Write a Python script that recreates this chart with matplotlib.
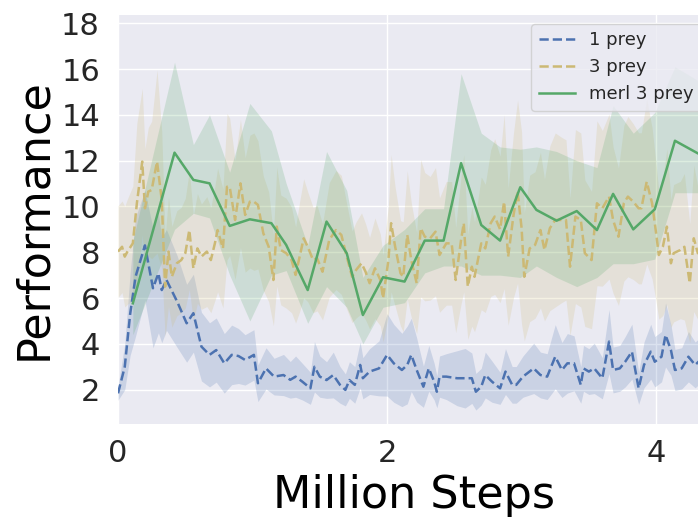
import numpy as np
import matplotlib
matplotlib.use('Agg')
import matplotlib.pyplot as plt

# ── data: 1 prey (mean and spread over runs) ──
blue_x = [0.00, 0.05, 0.09, 0.13, 0.20, 0.26, 0.30, 0.325, 0.36, 0.44,
          0.51, 0.56, 0.62, 0.68, 0.73, 0.79, 0.845, 0.895, 0.944, 1.01,
          1.04, 1.10, 1.16, 1.23, 1.28, 1.32, 1.37, 1.43, 1.46, 1.50,
          1.55, 1.60, 1.65, 1.69, 1.72, 1.76, 1.80, 1.82, 1.87, 1.94,
          2.00, 2.05, 2.11, 2.15, 2.18, 2.22, 2.27, 2.31, 2.35, 2.37,
          2.39, 2.44, 2.52, 2.58, 2.63, 2.66, 2.70, 2.73, 2.78, 2.84,
          2.88, 2.93, 2.96, 3.01, 3.09, 3.14, 3.19, 3.25, 3.30, 3.34,
          3.39, 3.44, 3.46, 3.50, 3.54, 3.60, 3.65, 3.68, 3.73, 3.77,
          3.82, 3.87, 3.91, 3.96, 3.99, 4.04, 4.07, 4.11, 4.14, 4.19,
          4.24, 4.29, 4.33, 4.38]
blue_y = [1.84, 3.00, 5.30, 6.93, 8.30, 6.43, 7.08, 6.35, 6.79, 5.84,
          4.90, 5.34, 3.88, 3.52, 3.73, 3.15, 3.52, 3.47, 3.30, 3.52,
          2.28, 2.93, 2.57, 2.64, 2.43, 2.57, 2.35, 2.06, 3.00, 2.57,
          2.42, 2.64, 2.21, 1.99, 2.42, 2.21, 3.08, 2.50, 2.79, 2.93,
          3.52, 3.15, 2.86, 3.08, 3.52, 2.86, 2.13, 2.93, 2.35, 1.91,
          2.57, 2.57, 2.50, 2.50, 2.50, 1.91, 2.13, 2.64, 2.35, 2.06,
          2.79, 2.21, 2.21, 2.57, 2.93, 2.64, 2.57, 3.44, 2.86, 3.15,
          3.15, 2.21, 2.93, 2.79, 2.93, 2.50, 4.10, 2.86, 2.93, 3.22,
          3.66, 2.06, 3.08, 3.66, 3.22, 3.44, 4.39, 3.73, 2.86, 2.93,
          3.44, 3.08, 3.30, 3.10]
blue_sd = [0.3, 1.0, 1.8, 2.6, 2.4, 2.6, 2.6, 2.3, 2.2, 2.0,
           1.7, 1.7, 1.5, 1.4, 1.4, 1.3, 1.3, 1.2, 1.1, 1.1,
           0.8, 0.9, 0.8, 0.9, 0.8, 0.9, 0.8, 0.7, 1.1, 0.9,
           0.8, 1.0, 0.8, 0.7, 0.8, 0.8, 1.0, 0.9, 1.0, 1.2,
           1.8, 1.7, 1.6, 1.7, 1.6, 1.4, 0.9, 1.0, 0.8, 0.7,
           0.9, 1.0, 1.2, 1.3, 1.1, 0.8, 0.8, 1.0, 0.9, 0.7,
           1.0, 0.8, 0.8, 0.9, 1.1, 1.0, 1.0, 1.4, 1.2, 1.3,
           1.2, 0.8, 1.0, 1.0, 1.1, 0.9, 1.4, 1.0, 1.0, 1.1,
           1.2, 0.7, 1.0, 1.2, 1.1, 1.1, 1.4, 1.1, 0.9, 0.9,
           1.1, 1.0, 1.0, 1.0]

# ── data: 3 prey ──
yel_x = [0.00, 0.03, 0.05, 0.07, 0.11, 0.14, 0.18, 0.20, 0.225, 0.25,
         0.29, 0.325, 0.35, 0.375, 0.40, 0.437, 0.47, 0.50, 0.53, 0.56,
         0.59, 0.62, 0.66, 0.69, 0.72, 0.74, 0.78, 0.81, 0.83, 0.87,
         0.91, 0.945, 0.98, 1.01, 1.04, 1.08, 1.12, 1.155, 1.18, 1.21,
         1.25, 1.29, 1.32, 1.35, 1.38, 1.41, 1.45, 1.48, 1.52, 1.57,
         1.62, 1.66, 1.70, 1.74, 1.77, 1.81, 1.84, 1.87, 1.91, 1.95,
         1.97, 2.01, 2.03, 2.06, 2.10, 2.12, 2.15, 2.18, 2.22, 2.25,
         2.28, 2.32, 2.36, 2.39, 2.44, 2.48, 2.51, 2.55, 2.57, 2.60,
         2.63, 2.65, 2.70, 2.73, 2.77, 2.80, 2.84, 2.87, 2.90, 2.94,
         2.97, 3.00, 3.02, 3.06, 3.10, 3.14, 3.17, 3.21, 3.25, 3.30,
         3.33, 3.36, 3.40, 3.44, 3.47, 3.52, 3.56, 3.60, 3.65, 3.68,
         3.72, 3.76, 3.79, 3.83, 3.87, 3.89, 3.93, 3.97, 4.00, 4.02,
         4.05, 4.08, 4.11, 4.13, 4.18, 4.21, 4.25, 4.28, 4.31, 4.36]
yel_y = [8.03, 8.24, 7.81, 8.03, 8.39, 10.14, 11.96, 9.92, 10.65, 10.72,
         11.96, 10.28, 6.50, 8.03, 6.93, 7.52, 7.66, 7.96, 8.97, 7.30,
         8.17, 7.81, 8.03, 7.66, 8.39, 8.97, 8.17, 10.86, 10.86, 9.41,
         11.01, 9.63, 10.21, 10.21, 10.07, 8.83, 8.24, 6.79, 9.12, 8.10,
         7.96, 7.66, 7.01, 7.81, 8.61, 8.24, 7.66, 7.74, 7.15, 8.54,
         8.97, 8.76, 7.81, 6.93, 7.23, 7.52, 7.15, 6.65, 7.30, 6.79,
         5.99, 7.66, 9.27, 8.24, 7.08, 6.93, 8.76, 7.66, 6.65, 9.05,
         8.68, 8.61, 8.90, 7.88, 8.39, 8.39, 6.79, 8.54, 9.27, 6.50,
         7.37, 6.93, 8.39, 8.17, 9.27, 9.56, 9.00, 10.21, 7.81, 9.63,
         10.65, 9.05, 6.93, 8.17, 8.32, 8.97, 8.10, 9.05, 9.41, 9.41,
         9.41, 7.37, 9.56, 9.41, 7.96, 7.66, 10.14, 9.92, 10.43, 9.41,
         8.68, 10.14, 10.43, 10.21, 9.92, 9.92, 11.08, 10.14, 8.83, 7.88,
         8.24, 9.12, 7.52, 7.96, 8.10, 8.24, 6.65, 8.61, 7.96, 8.20]
yel_sd = [2.0, 2.0, 2.2, 2.3, 2.5, 3.5, 3.2, 2.6, 2.8, 3.0,
          4.0, 3.0, 2.2, 2.4, 2.2, 2.3, 2.3, 2.4, 2.6, 2.3,
          2.4, 2.3, 2.4, 2.3, 2.5, 2.7, 2.6, 3.2, 3.0, 2.6,
          2.8, 2.5, 2.9, 3.0, 2.8, 2.5, 2.4, 2.0, 2.6, 2.4,
          2.4, 2.3, 2.1, 2.4, 2.6, 2.4, 2.3, 2.3, 2.1, 2.5,
          2.6, 2.6, 2.3, 2.0, 2.1, 2.2, 2.1, 2.0, 2.2, 2.0,
          1.9, 2.4, 3.0, 2.6, 2.3, 2.4, 2.8, 2.5, 2.2, 3.0,
          2.8, 2.7, 2.8, 2.5, 2.7, 2.7, 2.3, 2.8, 3.0, 2.3,
          2.6, 2.4, 2.9, 2.8, 3.2, 3.4, 3.2, 3.8, 3.0, 3.6,
          4.0, 4.2, 2.8, 3.2, 3.2, 3.4, 3.1, 3.6, 3.8, 3.6,
          3.5, 3.0, 3.8, 3.8, 3.2, 3.0, 3.6, 3.4, 3.6, 3.2,
          3.0, 3.4, 3.5, 3.4, 3.3, 3.3, 3.6, 3.3, 3.0, 2.8,
          3.0, 3.4, 2.8, 3.0, 3.0, 3.2, 2.6, 3.2, 2.9, 3.0]

# ── data: merl 3 prey (coarser evaluation) ──
green_x = [0.11, 0.42, 0.56, 0.68, 0.83, 0.98, 1.14, 1.25, 1.41, 1.55,
           1.70, 1.82, 1.97, 2.13, 2.28, 2.42, 2.55, 2.70, 2.84, 2.99,
           3.11, 3.26, 3.41, 3.56, 3.68, 3.83, 3.99, 4.14, 4.31, 4.46]
green_y = [5.77, 12.35, 11.16, 11.01, 9.15, 9.44, 9.27, 8.32, 6.35, 9.34,
           7.96, 5.26, 6.91, 6.72, 8.51, 8.51, 11.89, 9.19, 8.51, 10.84,
           9.85, 9.38, 9.80, 8.97, 10.55, 9.00, 9.88, 12.87, 12.32, 12.00]
green_lo = [4.4, 9.0, 9.7, 9.5, 7.0, 5.0, 7.0, 7.2, 4.9, 6.5,
            5.6, 4.0, 5.6, 5.8, 7.1, 7.4, 7.4, 7.0, 7.0, 6.9,
            7.4, 6.9, 6.5, 6.9, 7.5, 7.5, 7.7, 10.6, 10.6, 10.5]
green_hi = [8.5, 16.3, 12.7, 14.0, 11.5, 14.5, 13.3, 11.0, 8.3, 12.4,
            10.7, 6.9, 8.3, 9.0, 9.9, 9.9, 15.8, 13.2, 12.6, 12.5,
            12.6, 12.4, 12.0, 11.7, 14.4, 13.2, 14.1, 16.1, 15.5, 15.0]

x_ticks = [0, 2, 4]
y_ticks = [2, 4, 6, 8, 10, 12, 14, 16, 18]

# darkgrid-like look
plt.rcParams.update({
    'font.family': 'DejaVu Sans',
    'axes.facecolor': '#EAEAF2',
    'axes.edgecolor': 'white',
    'grid.color': 'white',
    'grid.linewidth': 1.0,
    'text.color': '#262626',
    'xtick.color': '#262626',
    'ytick.color': '#262626',
})

fig = plt.figure(figsize=(6.98, 5.22), dpi=100)
ax = fig.add_axes([0.1691, 0.1877, 0.848, 0.7835])
ax.set_axisbelow(True)
ax.grid(True)
for s in ax.spines.values():
    s.set_visible(False)

c_blue, c_yel, c_green = '#4C72B0', '#CCB974', '#55A868'

bx, by, bs = np.array(blue_x), np.array(blue_y), np.array(blue_sd)
ax.fill_between(bx, by - bs, by + bs, color=c_blue, alpha=0.2, linewidth=0)
ax.plot(bx, by, '--', color=c_blue, lw=1.8, label='1 prey')

yx, yy, ys = np.array(yel_x), np.array(yel_y), np.array(yel_sd)
ax.fill_between(yx, yy - ys, yy + ys, color=c_yel, alpha=0.2, linewidth=0)
ax.plot(yx, yy, '--', color=c_yel, lw=1.8, label='3 prey')

ax.fill_between(green_x, green_lo, green_hi, color=c_green, alpha=0.2,
                linewidth=0)
ax.plot(green_x, green_y, '-', color=c_green, lw=1.8, label='merl 3 prey')

ax.set_xlim(0, 4.40)
ax.set_ylim(0.5, 18.36)
ax.set_xticks(x_ticks)
ax.set_yticks(y_ticks)
ax.tick_params(axis='both', length=0, labelsize=22)
ax.tick_params(axis='x', pad=11)
ax.tick_params(axis='y', pad=13)

ax.set_xlabel('Million Steps', fontsize=32)
ax.set_ylabel('Performance', fontsize=32)

leg = ax.legend(loc='upper right', fontsize=13, frameon=True,
                facecolor='#EAEAF2', edgecolor='#CCCCCC', framealpha=0.8)

plt.savefig('out.png', dpi=100)
